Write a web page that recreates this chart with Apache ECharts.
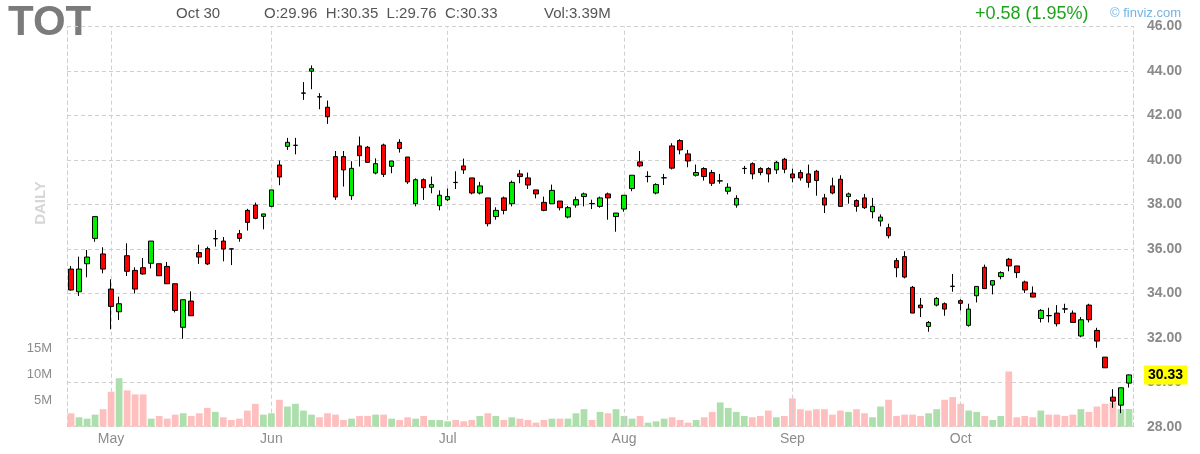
<!DOCTYPE html>
<html>
<head>
<meta charset="utf-8">
<script src="https://cdn.jsdelivr.net/npm/echarts@6/dist/echarts.min.js"></script>
<style>
html,body{margin:0;padding:0;background:#fff;}
#chart{width:1200px;height:454px;}
</style>
</head>
<body>
<div id="chart"></div>
<script>
// Trading days (2020) per month
const aprDays = [24,27,28,29,30];
const mayDays = [1,4,5,6,7,8,11,12,13,14,15,18,19,20,21,22,26,27,28,29];
const junDays = [1,2,3,4,5,8,9,10,11,12,15,16,17,18,19,22,23,24,25,26,29,30];
const julDays = [1,2,6,7,8,9,10,13,14,15,16,17,20,21,22,23,24,27,28,29,30,31];
const augDays = [3,4,5,6,7,10,11,12,13,14,17,18,19,20,21,24,25,26,27,28,31];
const sepDays = [1,2,3,4,8,9,10,11,14,15,16,17,18,21,22,23,24,25,28,29,30];
const octDays = [1,2,5,6,7,8,9,12,13,14,15,16,19,20,21,22,23,26,27,28,29,30];
const monthNames = ['Apr','May','Jun','Jul','Aug','Sep','Oct'];

const opens = [
35.09,34.07,35.33,36.47,35.77,34.19,33.17,35.69,35.03,35.15,35.35,35.33,35.21,34.43,32.47,33.65,35.83,36.01,36.45,36.35,36.00,36.68,
37.73,37.97,37.46,37.91,39.77,40.61,40.65,43.00,43.99,42.84,42.37,40.15,40.15,38.39,40.63,40.57,39.41,40.67,39.71,40.79,40.13,38.03,
39.11,38.77,37.94,38.21,38.99,39.73,39.19,38.51,38.29,37.45,38.29,38.03,39.37,39.19,38.65,38.09,38.03,38.15,37.43,37.97,38.35,38.04,
37.91,38.47,37.45,37.79,38.71,39.91,39.25,38.51,39.19,40.63,40.87,40.27,39.31,39.61,39.43,39.05,38.59,37.97,39.61,39.83,39.61,39.61,
39.55,40.03,39.37,39.43,39.37,39.49,38.29,38.83,39.13,38.35,38.17,38.29,37.67,37.25,36.95,35.47,35.65,34.27,33.47,32.51,33.47,33.53,
34.32,33.67,32.56,33.89,35.17,34.37,34.75,35.53,35.23,34.51,34.01,32.87,33.00,33.11,33.30,33.11,32.08,33.47,32.33,31.13,29.33,28.97,29.96];
const highs = [
35.23,35.65,35.95,37.45,36.07,34.63,33.85,36.25,35.17,35.59,36.35,35.33,35.41,34.43,33.71,34.09,36.19,36.10,36.85,36.53,36.00,36.85,
37.80,38.08,37.57,38.65,39.97,40.99,40.99,43.50,44.25,43.00,42.67,40.40,40.40,39.94,41.05,40.63,40.07,40.73,39.95,40.93,40.13,39.17,
39.17,39.25,38.63,38.71,39.49,40.06,39.19,39.01,38.29,37.87,38.35,39.07,39.55,39.43,38.65,38.35,38.89,38.15,37.93,38.35,38.53,38.21,
38.35,38.53,37.61,38.41,39.31,40.40,39.49,38.95,39.37,40.75,40.93,40.45,39.79,39.67,39.55,39.37,38.95,38.41,39.73,39.89,39.67,39.67,
39.95,40.09,39.61,39.55,39.79,39.55,38.47,39.20,39.31,38.53,38.23,38.47,38.29,37.55,37.13,35.59,35.89,34.33,33.79,32.75,33.83,33.59,
34.87,33.73,33.53,34.31,35.29,34.57,34.99,35.59,35.23,34.57,34.31,33.29,33.35,33.47,33.53,33.23,32.93,33.53,32.45,31.13,29.69,29.75,30.35];
const lows = [
34.12,33.88,34.72,36.32,34.90,32.38,32.80,34.78,33.99,34.84,35.12,34.79,34.43,33.14,31.96,32.99,35.32,35.27,36.10,35.44,35.27,36.32,
36.82,37.33,36.88,37.87,38.86,40.45,40.25,42.70,43.18,42.28,41.62,38.20,38.80,38.20,39.70,39.89,39.35,39.23,39.40,40.33,38.92,37.91,
38.20,38.50,37.73,38.15,38.69,39.37,38.45,38.45,37.01,37.31,37.55,37.91,38.95,38.69,38.27,37.69,38.03,37.73,37.37,37.85,37.91,37.79,
37.85,37.31,36.77,37.67,38.59,39.67,38.99,38.45,38.87,39.57,40.25,39.67,39.25,39.07,38.83,38.93,38.45,37.85,39.37,39.13,39.31,38.99,
39.37,39.40,38.99,39.07,38.75,38.39,37.61,38.45,37.91,38.03,37.67,37.79,37.37,37.01,36.47,34.72,34.67,33.11,32.93,32.27,33.41,32.99,
34.07,33.23,32.50,33.59,34.21,33.95,34.63,34.99,34.69,34.01,33.83,32.69,32.69,32.51,33.11,32.69,32.02,32.69,31.55,30.65,28.85,28.61,29.76];
const closes = [
34.15,35.09,35.63,37.45,35.09,33.41,33.53,34.99,34.19,34.87,36.35,34.79,34.43,33.23,33.71,32.99,35.63,35.32,36.46,35.99,35.99,36.47,
37.19,37.37,37.57,38.65,39.23,40.79,40.66,43.01,44.10,42.83,41.94,38.33,39.55,39.62,40.19,39.89,39.83,39.35,39.95,40.51,39.01,39.11,
38.75,38.89,38.41,38.35,38.98,39.55,38.51,38.83,37.13,37.73,37.73,38.99,39.25,38.87,38.47,37.73,38.63,37.85,37.85,38.21,38.47,38.03,
38.29,38.29,37.61,38.41,39.31,39.73,39.26,38.89,39.20,39.63,40.45,39.95,39.43,39.25,38.95,39.06,38.77,38.27,39.62,39.37,39.43,39.37,
39.89,39.58,39.19,39.19,38.99,39.07,37.97,38.51,37.91,38.47,37.91,37.85,37.91,37.43,36.59,35.15,34.73,33.11,33.35,32.69,33.77,33.29,
34.31,33.55,33.29,34.31,34.21,34.57,34.93,35.23,34.93,34.15,33.83,33.23,32.99,32.63,33.29,32.69,32.81,32.81,31.85,30.65,29.15,29.75,30.33];
// Volume in millions of shares
const volumes = [
2.57,1.80,1.54,2.31,3.35,6.70,9.28,6.96,6.18,6.18,1.54,2.06,1.54,2.31,2.57,2.06,2.57,3.60,2.83,1.80,1.28,1.54,
3.09,4.38,2.31,2.57,5.15,3.86,4.38,3.09,2.31,1.80,2.57,2.31,1.28,1.54,2.06,2.06,2.31,2.31,1.54,1.28,1.80,1.54,
2.06,1.28,1.28,1.03,1.28,1.03,1.28,2.06,2.57,2.06,1.28,1.80,1.54,1.28,0.77,1.28,1.54,1.54,1.54,2.57,3.35,1.28,
2.83,2.57,3.35,2.06,1.54,2.06,0.77,1.03,1.54,1.80,1.28,0.77,1.28,1.80,2.83,4.64,3.60,2.83,2.06,1.80,2.06,3.09,
1.80,2.06,5.42,3.35,3.09,3.35,3.35,2.31,3.09,2.83,3.35,2.57,1.80,3.86,5.15,2.06,2.31,2.31,2.06,2.57,3.35,5.15,
5.67,4.38,3.09,2.83,2.06,1.28,2.06,10.57,1.80,2.06,1.80,3.09,2.31,2.31,2.06,2.31,3.35,2.83,3.86,4.38,4.64,3.35,3.39];

const priceTicks = {min: 28, max: 46, step: 2};
const volTicks = {min: 0, max: 15, step: 5};
const lastClose = 30.33;
const headerInfo = {sym:'TOT', date:'Oct 30', ohlc:'O:29.96  H:30.35  L:29.76  C:30.33', vol:'Vol:3.39M', change:'+0.58 (1.95%)'};

// Build categories
const categories = [];
const monthStart = [];
[aprDays,mayDays,junDays,julDays,augDays,sepDays,octDays].forEach((days, m) => {
  days.forEach((d, k) => {
    const label = monthNames[m] + ' ' + d;
    if (k === 0 && m > 0) monthStart.push(label);
    categories.push(label);
  });
});

const candleData = opens.map((o, i) => [o, closes[i], lows[i], highs[i]]);
const volData = volumes.map((v, i) => ({
  value: v,
  itemStyle: {color: closes[i] >= opens[i] ? '#acdfac' : '#ffbfbf'}
}));

const grid = '#cfcfcf';
const dash = [4, 3];

const chart = echarts.init(document.getElementById('chart'), null, {renderer: 'canvas'});
chart.setOption({
  animation: false,
  backgroundColor: '#ffffff',
  grid: [
    {left: 67, right: 67, top: 26.5, bottom: 27.3},
    {left: 67, right: 67, top: 348.3, bottom: 27.3}
  ],
  xAxis: [
    {
      type: 'category', gridIndex: 0, data: categories, boundaryGap: true,
      axisLine: {show: false}, axisTick: {show: false}, splitLine: {show: false},
      axisLabel: {
        interval: (idx, val) => monthStart.indexOf(val) >= 0,
        formatter: v => v.split(' ')[0],
        color: '#8c8c8c', fontSize: 14, fontFamily: 'Arial, Liberation Sans', margin: 5
      }
    },
    {
      type: 'category', gridIndex: 1, data: categories, boundaryGap: true,
      axisLine: {show: false}, axisTick: {show: false}, axisLabel: {show: false}, splitLine: {show: false}
    }
  ],
  yAxis: [
    {
      type: 'value', gridIndex: 0, position: 'right', scale: true,
      min: priceTicks.min, max: priceTicks.max, interval: priceTicks.step,
      axisLine: {show: true, lineStyle: {color: grid, type: dash}},
      axisTick: {show: false},
      axisLabel: {
        formatter: v => v.toFixed(2), color: '#8a8a8a', fontSize: 14, fontWeight: 'bold',
        fontFamily: 'Arial, Liberation Sans', margin: 14
      },
      splitLine: {show: true, lineStyle: {color: grid, type: dash}}
    },
    {
      type: 'value', gridIndex: 0, position: 'left',
      min: priceTicks.min, max: priceTicks.max,
      axisLine: {show: true, lineStyle: {color: grid, type: dash}},
      axisTick: {show: false}, axisLabel: {show: false}, splitLine: {show: false}
    },
    {
      type: 'value', gridIndex: 1, position: 'left',
      min: volTicks.min, max: volTicks.max, interval: volTicks.step,
      axisLine: {show: false},
      axisTick: {show: false},
      axisLabel: {
        formatter: v => v === 0 ? '' : v + 'M', color: '#8c8c8c', fontSize: 13,
        fontFamily: 'Arial, Liberation Sans', margin: 15
      },
      splitLine: {show: false}
    }
  ],
  graphic: [
    {type: 'text', x: 8, y: 23, style: {text: headerInfo.sym, font: 'bold 42px Arial, "Liberation Sans"', fill: '#7b7b7b', textVerticalAlign: 'middle'}},
    {type: 'text', x: 176, y: 14, style: {text: headerInfo.date, font: '15px Arial, "Liberation Sans"', fill: '#555555', textVerticalAlign: 'middle'}},
    {type: 'text', x: 264, y: 14, style: {text: headerInfo.ohlc, font: '15px Arial, "Liberation Sans"', fill: '#555555', textVerticalAlign: 'middle'}},
    {type: 'text', x: 544, y: 14, style: {text: headerInfo.vol, font: '15px Arial, "Liberation Sans"', fill: '#555555', textVerticalAlign: 'middle'}},
    {type: 'text', x: 975, y: 14, style: {text: headerInfo.change, font: '18px Arial, "Liberation Sans"', fill: '#1fa31f', textVerticalAlign: 'middle'}},
    {type: 'text', x: 1110, y: 13, style: {text: '\u00a9 finviz.com', font: '13px Arial, "Liberation Sans"', fill: '#72b4e6', textVerticalAlign: 'middle'}},
    {type: 'text', x: 41, y: 203, rotation: Math.PI / 2, style: {text: 'DAILY', font: 'bold 15px Arial, "Liberation Sans"', fill: '#d6d6d6', textAlign: 'center', textVerticalAlign: 'middle'}}
  ],
  series: [
    {
      type: 'bar', name: 'Volume', xAxisIndex: 1, yAxisIndex: 2,
      data: volData, barCategoryGap: '16%', z: 1, silent: true
    },
    {
      type: 'candlestick', name: 'TOT', xAxisIndex: 0, yAxisIndex: 0,
      data: candleData, barWidth: 5, z: 5,
      itemStyle: {
        color: '#00ee00', color0: '#ff0000',
        borderColor: '#000000', borderColor0: '#000000', borderColorDoji: '#000000',
        borderWidth: 1
      },
      markLine: {
        silent: true, symbol: 'none', animation: false,
        label: {show: false},
        lineStyle: {color: grid, type: dash, width: 1},
        data: monthStart.map(m => ({xAxis: m}))
      }
    },
    {
      type: 'scatter', name: 'Last', xAxisIndex: 0, yAxisIndex: 0, z: 10, silent: true,
      symbolSize: 0,
      data: [[categories[categories.length - 1], lastClose]],
      markLine: {
        silent: true, symbol: 'none', animation: false,
        lineStyle: {color: 'rgba(0,0,0,0)', width: 0},
        label: {
          show: true, position: 'end', distance: 11, formatter: () => lastClose.toFixed(2),
          backgroundColor: '#ffff00', color: '#000000', fontSize: 14, fontWeight: 'bold',
          fontFamily: 'Arial, Liberation Sans', padding: [3, 4, 2, 4]
        },
        data: [{yAxis: lastClose}]
      }
    }
  ]
});
</script>
</body>
</html>
